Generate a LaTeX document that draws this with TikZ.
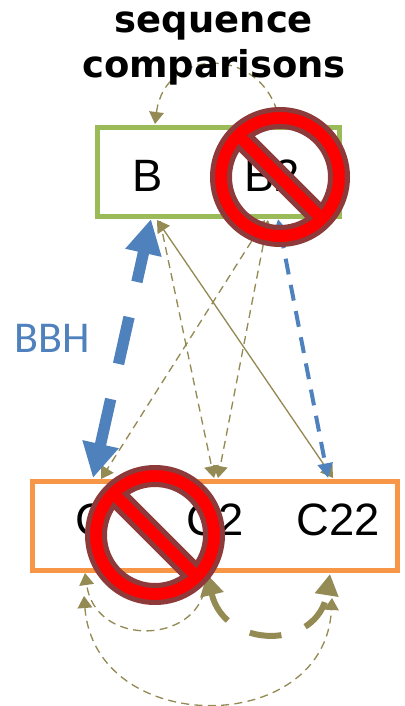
\documentclass[tikz,border=0pt]{standalone}
\usepackage{fontspec}
\setmainfont{Liberation Sans}
\newfontfamily\titlefont{DejaVu Sans}
\newfontfamily\bbhfont{Carlito}
\usetikzlibrary{arrows.meta}
\definecolor{olv}{HTML}{948A54}
\definecolor{grn}{HTML}{9BBB59}
\definecolor{org}{HTML}{F79646}
\definecolor{blu}{HTML}{4F81BD}
\definecolor{nored}{HTML}{FF0000}
\definecolor{norim}{HTML}{8E3A3A}
\begin{document}
\begin{tikzpicture}[x=0.75pt,y=-0.75pt,
  box/.style={draw=#1, line width=3.4pt, inner sep=0pt, outer sep=0pt},
  lbl/.style={font=\fontsize{34}{40}\selectfont, inner sep=0pt},
  ttl/.style={font=\titlefont\bfseries\fontsize{27.7}{33}\selectfont, inner sep=0pt},
  othin/.style={draw=olv, line width=1pt},
  odash/.style={othin, dash pattern=on 6pt off 4pt},
  stip/.tip={Triangle[length=9pt,width=11pt]},
  btip/.tip={Triangle[length=26pt,width=26pt]},
  mtip/.tip={Triangle[length=11pt,width=11pt]},
  ttip/.tip={Triangle[length=16pt,width=17pt]},
  nosign/.pic={
    \path[fill=nored, draw=norim, line width=3.75pt, even odd rule]
      (0,0) circle[radius=67.5]
      (234.69:50.5) arc[start angle=234.69, end angle=395.31, radius=50.5] -- cycle
      (54.69:50.5) arc[start angle=54.69, end angle=215.31, radius=50.5] -- cycle;
  }
]
\useasboundingbox (0,0) rectangle (404,706);

% boxes
\node[box=grn, minimum width=181.5pt, minimum height=66.75pt] (Bbox) at (218.5,172) {};
\node[box=org, minimum width=273.75pt, minimum height=66.75pt] (Cbox) at (215,526) {};

% labels
\node[lbl] (B) at (148,176) {B};
\node[lbl] (B2) at (272,176) {B2};
\node[lbl] (C) at (92,520) {C};
\node[lbl] (C2) at (215,520) {C2};
\node[lbl] (C22) at (338,520) {C22};
\node[font=\bbhfont\fontsize{33}{40}\selectfont, text=blu, inner sep=0pt] (BBH) at (52,338) {BBH};

% connector end points
\coordinate (Btop) at (155,124);
\coordinate (B2top) at (280,124);
\coordinate (Bb1) at (151,219);
\coordinate (Bb2) at (157,220);
\coordinate (Bb3) at (160,221);
\coordinate (B2b1) at (268,220);
\coordinate (B2b2) at (265,220);
\coordinate (B2b3) at (278,219);
\coordinate (Ct1) at (93,478);
\coordinate (Ct2) at (101,479);
\coordinate (C2t1) at (214,478);
\coordinate (C2t2) at (218,478);
\coordinate (C22t1) at (333,478);
\coordinate (C22t2) at (328,478);
\coordinate (Cb1) at (85,573);
\coordinate (Cb2) at (84,596);
\coordinate (C2b1) at (204,592);
\coordinate (C2b2) at (207,574);
\coordinate (C22b1) at (330,574);
\coordinate (C22b2) at (332,598);

% top loop
\draw[odash, -stip] (B2top) .. controls (268,45) and (165,45) .. (Btop);

% title (over the loop)
\node[ttl, anchor=base] (t1) at (214,33) {sequence};
\node[ttl, anchor=base] (t2) at (214,78) {comparisons};

% B/B2 to C row
\draw[othin, stip-stip] (Bb2) -- (C22t1);
\draw[odash, -stip] (Bb3) -- (C2t1);
\draw[odash, stip-stip] (B2b1) -- (C2t2);
\draw[odash, stip-stip] (B2b2) -- (Ct2);
\draw[draw=blu, line width=3pt, dash pattern=on 12pt off 8pt, mtip-mtip] (B2b3) -- (C22t2);
\draw[draw=blu, line width=8.5pt, dash pattern=on 36pt off 27pt, dash phase=12pt, btip-btip] (Bb1) -- (Ct1);

% bottom loops
\draw[odash, -stip] (C2b1) .. controls (190,645) and (95,645) .. (Cb1);
\draw[odash, stip-stip] (Cb2) .. controls (95,738) and (325,738) .. (C22b2);
\draw[draw=olv, line width=4.5pt, dash pattern=on 24pt off 19pt, ttip-ttip] (C2b2) .. controls (225,650) and (318,650) .. (C22b1);

% prohibition signs
\pic (noB2) at (280,177) {nosign};
\pic (noC) at (155,535) {nosign};
\end{tikzpicture}
\end{document}
